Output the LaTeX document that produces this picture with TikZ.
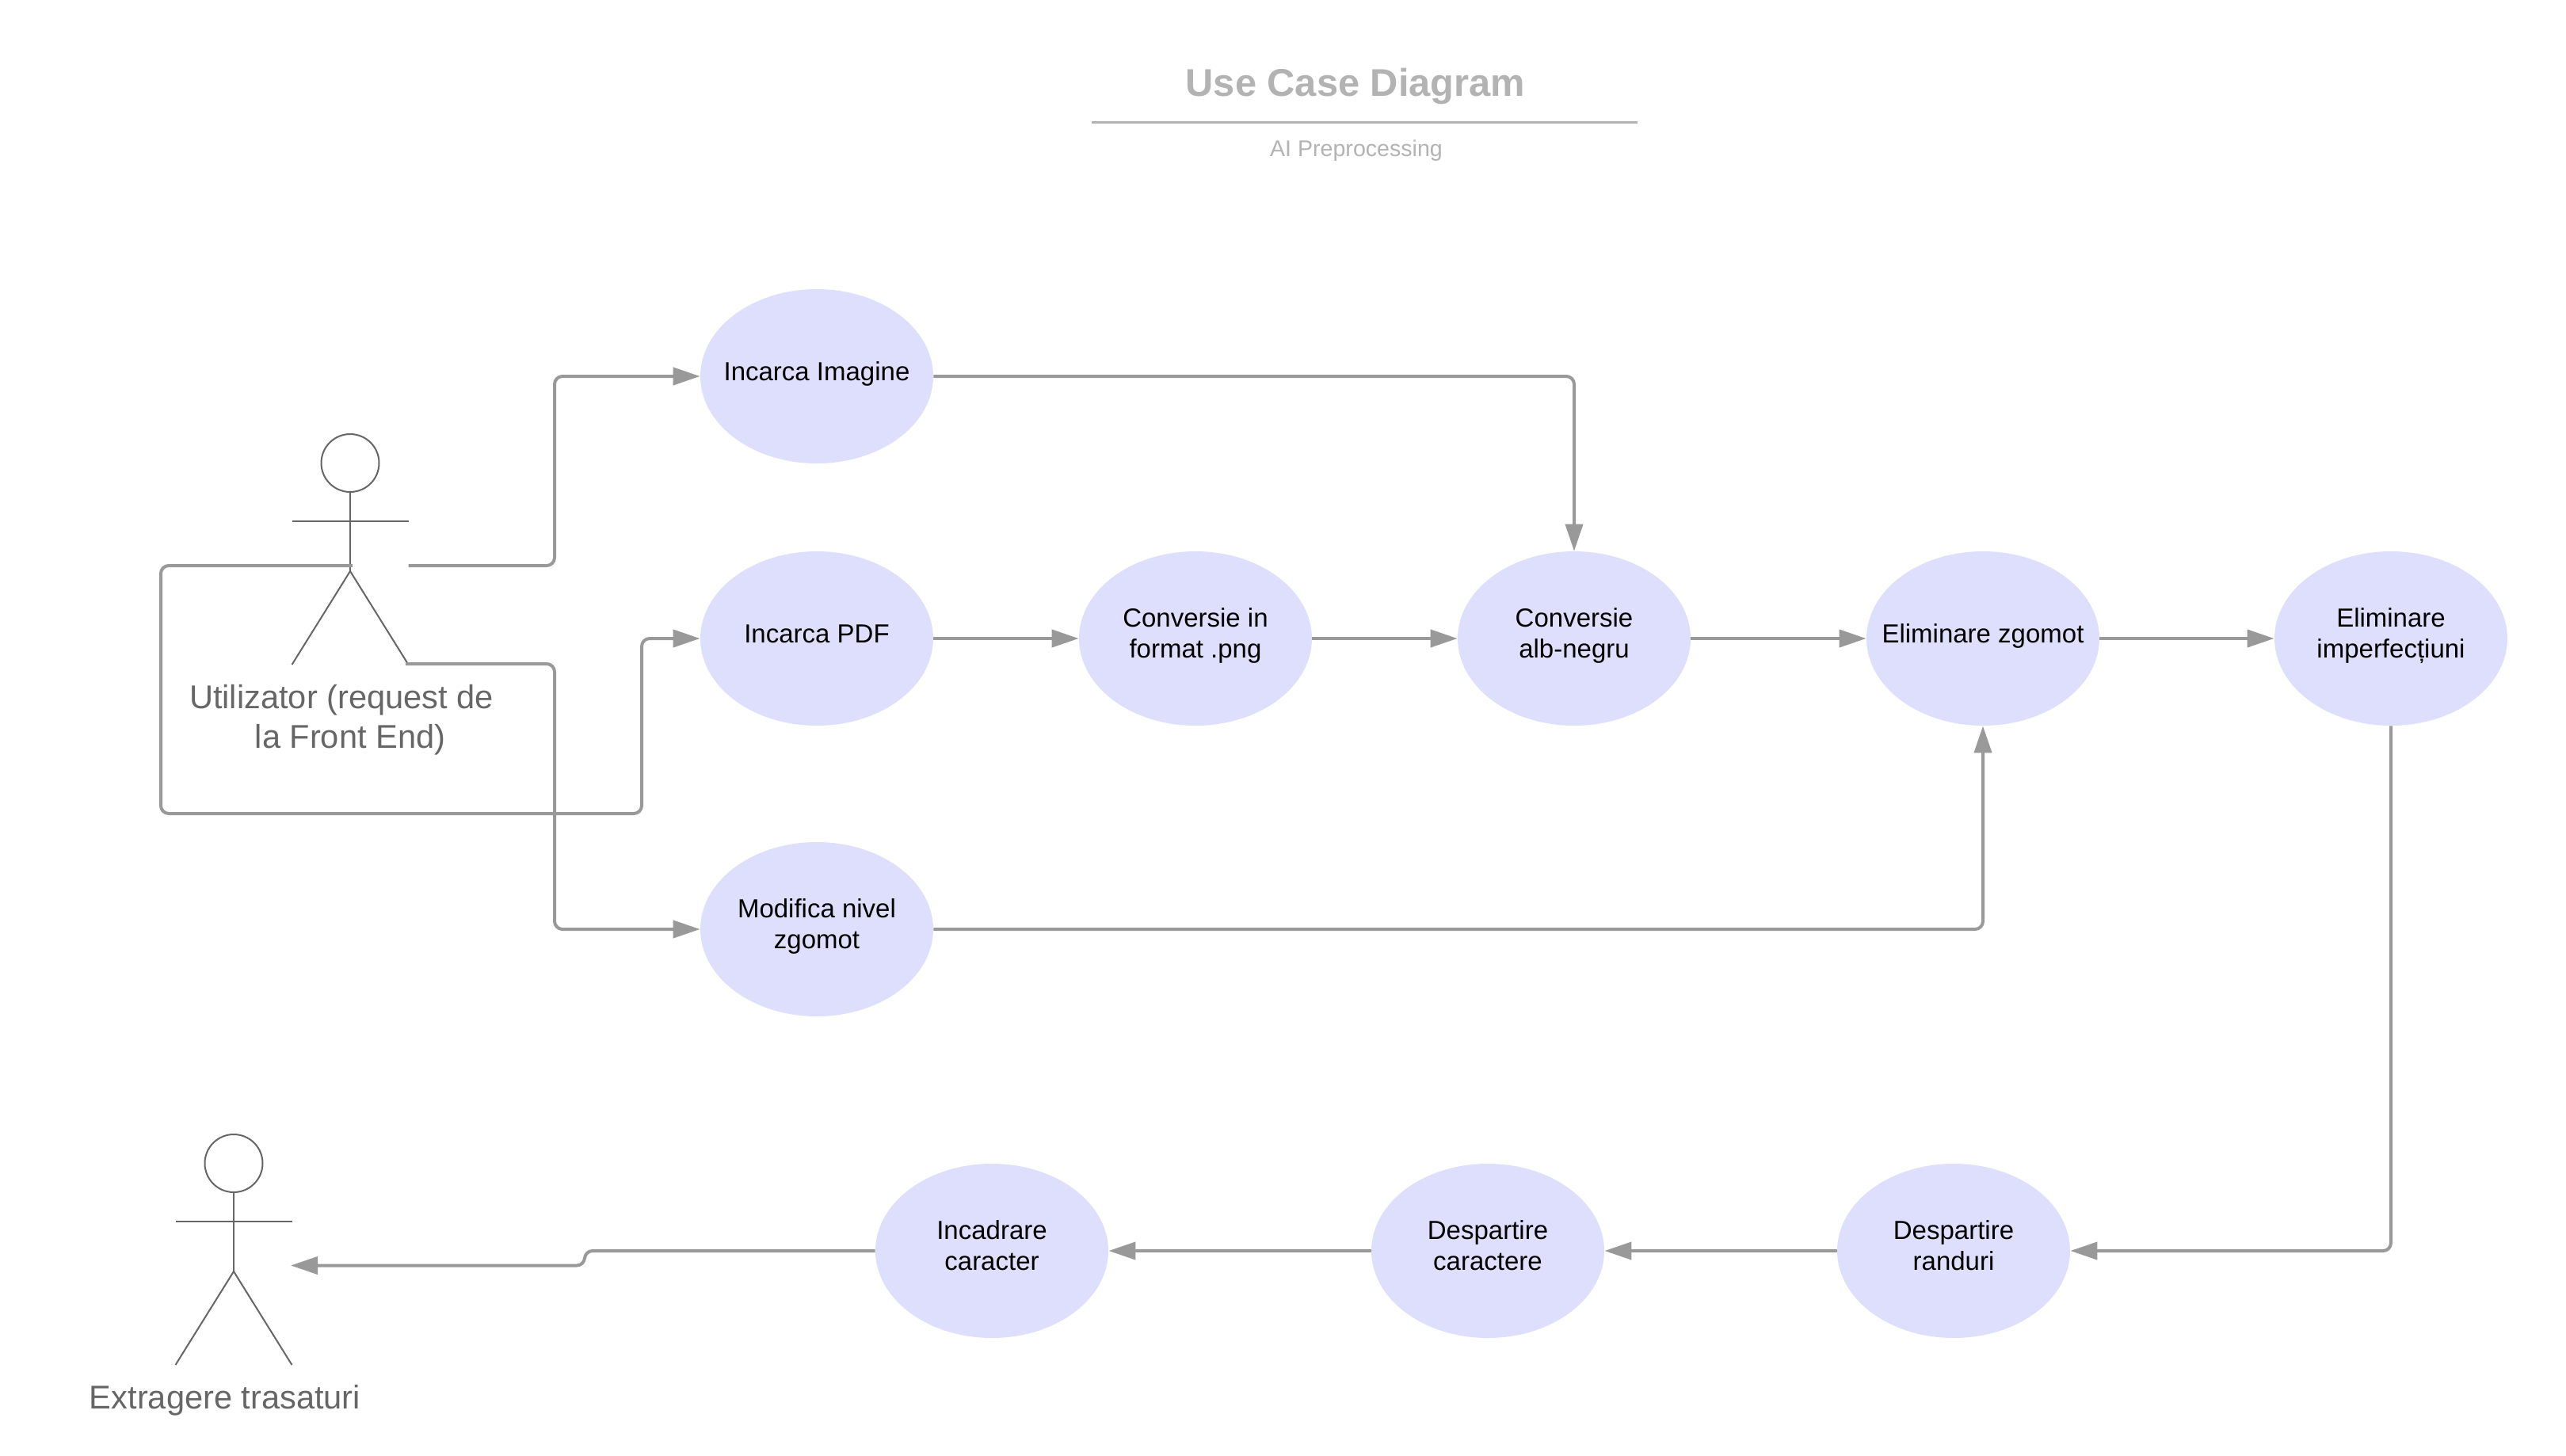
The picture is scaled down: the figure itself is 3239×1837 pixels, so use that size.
\documentclass[tikz,border=0pt]{standalone}
\usepackage{fontspec}
\setmainfont{Liberation Sans}
\usetikzlibrary{shapes.geometric,arrows.meta}
\definecolor{linegray}{HTML}{999999}
\definecolor{actorgray}{HTML}{666666}
\definecolor{titlegray}{HTML}{B3B3B3}
\definecolor{casefill}{HTML}{DEDFFC}
\begin{document}
\begin{tikzpicture}[x=0.5pt, y=-0.5pt, node distance=239pt,
    usecase/.style={ellipse, fill=casefill, minimum width=147pt, minimum height=110pt, inner sep=0pt, align=center, font=\fontsize{16.5}{19.8}\selectfont,
        execute at begin node={\rule{0pt}{12pt}}, execute at end node={\rule[-7pt]{0pt}{0pt}}},
    actorlabel/.style={text=actorgray, align=center, font=\fontsize{20.8}{25}\selectfont},
    link/.style={-{Triangle[length=17pt,width=11pt]}, draw=linegray, line width=2pt, rounded corners=5pt},
    actor/.pic={
        \draw[actorgray, line width=1pt] (0,0) circle (18.25pt);
        \draw[actorgray, line width=1pt] (0,36.5) -- (0,136.5);
        \draw[actorgray, line width=1pt] (-73.5,73) -- (73.5,73);
        \draw[actorgray, line width=1pt] (-73.5,254.5) -- (0,136.5) -- (73.5,254.5);
        \coordinate (-lefthip) at (3,129.5);
        \coordinate (-righthip) at (73.5,129.5);
        \coordinate (-foot) at (70,253.5);
        \coordinate (-waist) at (72,129);
    }]
    \useasboundingbox (0,0) rectangle (3239,1837);

    % title
    \node[text=titlegray, font=\bfseries\fontsize{24.4}{29}\selectfont] (title) at (1711,109) {Use Case Diagram};
    \draw[titlegray, line width=1.5pt] (1378,154) -- (2067,154);
    \node[text=titlegray, font=\fontsize{14.3}{17}\selectfont] (subtitle) at (1712,190) {AI Preprocessing};

    % actors
    \pic (user) at (442,584.5) {actor};
    \node[actorlabel] (userlabel) at (442,909) {Utilizator (request de\hspace*{11pt}\\la Front End)};
    \pic (extract) at (295,1468.5) {actor};
    \node[actorlabel] (extractlabel) at (284,1768) {Extragere trasaturi};

    % top rows
    \node[usecase] (pdf) at (1031,806) {Incarca PDF};
    \node[usecase, above of=pdf, node distance=165.5pt] (image) {\makebox[0pt]{Incarca Imagine}};
    \node[usecase, below of=pdf, node distance=183.5pt] (noise) {Modifica nivel\\zgomot};
    \node[usecase, right of=pdf] (png) {Conversie in\\format .png};
    \node[usecase, right of=png] (bw) {Conversie\\alb-negru};
    \node[usecase, right of=bw, node distance=258pt] (denoise) {\makebox[0pt]{Eliminare zgomot}};
    \node[usecase, right of=denoise, node distance=257.5pt] (clean) {Eliminare\\imperfecțiuni};

    % bottom row
    \node[usecase] (lines) at (2466,1579) {Despartire\\randuri};
    \node[usecase, left of=lines, node distance=294pt] (chars) {Despartire\\caractere};
    \node[usecase, left of=chars, node distance=313pt] (frame) {Incadrare\\caracter};
    \coordinate (jog) at (738,1597.5);

    \draw[link] (user-righthip) -| (700,475) -- (image);
    \draw[link] (user-lefthip) -| (203,1027) -| (810,806) -- (pdf);
    \draw[link] (user-foot) -| (700,1173) -- (noise);
    \draw[link] (image) -| (bw);
    \draw[link] (pdf) -- (png);
    \draw[link] (png) -- (bw);
    \draw[link] (bw) -- (denoise);
    \draw[link] (denoise) -- (clean);
    \draw[link] (noise) -| (denoise);
    \draw[link] (clean) |- (lines);
    \draw[link] (lines) -- (chars);
    \draw[link] (chars) -- (frame);
    \draw[link] (frame) -| (jog) -- (extract-waist);
\end{tikzpicture}
\end{document}
